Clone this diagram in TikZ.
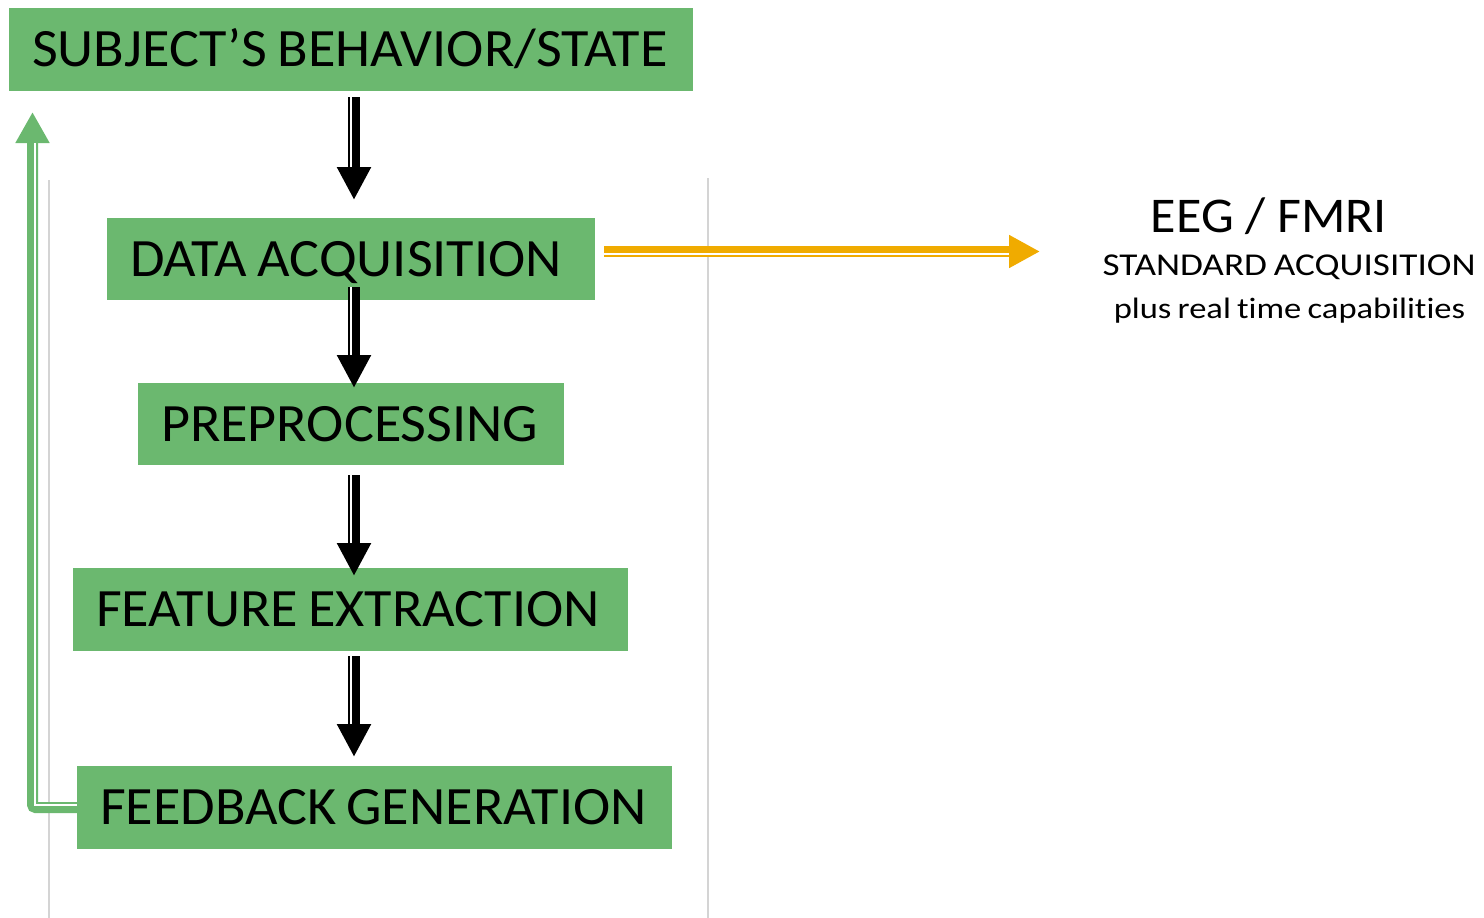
\documentclass[tikz,border=0pt]{standalone}
\usepackage{fontspec}
\setmainfont{Carlito}[FakeStretch=1.04, WordSpace=0.8, Ligatures=NoCommon]
\newfontfamily\rtfont{Carlito}[FakeStretch=1.17, WordSpace=0.8, Ligatures=NoCommon]
\newfontfamily\eegfont{Carlito}[FakeStretch=1.04, Ligatures=NoCommon]
\usetikzlibrary{arrows.meta,calc}
\definecolor{boxgreen}{HTML}{6BB86F}
\definecolor{arrorange}{HTML}{F0AB00}
\definecolor{guide}{HTML}{D4D4D4}
\begin{document}
\begin{tikzpicture}[x=1pt,y=-1pt,
  stage/.style={fill=boxgreen, inner xsep=23pt, inner ysep=0pt, align=flush left,
    text height=34pt, text depth=0pt,
    minimum height=83pt, font=\fontsize{54}{60}\selectfont, anchor=center},
  blkarrow/.style={black, line width=12pt, -{Triangle[length=33pt,width=32pt]}},
  blkgap/.style={white, line width=2pt},
  side/.style={font=\rtfont\fontsize{31.8}{36}\selectfont, anchor=base, inner sep=0pt}]
\useasboundingbox (0,0) rectangle (1484,918);
% guide lines
\coordinate (gl1) at (48.5,180);
\coordinate (gl2) at (48.5,918);
\coordinate (gr1) at (708,178);
\coordinate (gr2) at (708,918);
\draw[guide, line width=2pt] (gl1) -- (gl2);
\draw[guide, line width=2pt] (gr1) -- (gr2);
% stages
\node[stage, text width=638pt] (s)  at (351,49.5)   {\mbox{SUBJECT’S BEHAVIOR/STATE}};
\node[stage, text width=442pt, minimum height=82pt] (da) at (351,259) {\mbox{DATA ACQUISITION}};
\node[stage, text width=380pt, minimum height=82pt] (pp) at (351,424) {PREPROCESSING};
\node[stage, text width=509pt] (fe) at (350.5,609.5) {\mbox{FEATURE EXTRACTION}};
\node[stage, text width=549pt] (fb) at (374.5,807.5) {\mbox{FEEDBACK GENERATION}};
% black arrows
\coordinate (a1s) at (354,97);  \coordinate (a1e) at (354,200);
\coordinate (a2s) at (354,287); \coordinate (a2e) at (354,388);
\coordinate (a3s) at (354,475); \coordinate (a3e) at (354,576);
\coordinate (a4s) at (354,656); \coordinate (a4e) at (354,757);
\foreach \i in {1,2,3,4}{
  \draw[blkarrow] (a\i s) -- (a\i e);
  \draw[blkgap] ($(a\i s)+(-3,0)$) -- ($(a\i e)+(-3,-33)$);
}
% green feedback arrow
\coordinate (gc) at (32.5,807.5);
\coordinate (gt) at (32.5,112);
\draw[boxgreen, line width=11pt, rounded corners=3pt, -{Triangle[length=31pt,width=32pt]}]
  (fb.west) -- (gc) -- (gt);
\draw[white, line width=1.8pt] ($(fb.west)+(0,-2.5)$) -- ($(gc)+(2.5,-2.5)$) -- ($(gt)+(2.5,31)$);
% orange arrow
\coordinate (ot) at (1040,251.5);
\draw[arrorange, line width=11pt, -{Triangle[length=31pt,width=31pt]}]
  ($(da.east)+(9,-7.5)$) -- (ot);
\draw[white, line width=1.8pt] ($(da.east)+(9,-5)$) -- ($(ot)+(-31,2.5)$);
% side texts
\node[side, font=\eegfont\fontsize{50}{56}\selectfont] (eeg) at (1269,232) {EEG / FMRI};
\node[side] (std) at (1289,275) {STANDARD ACQUISITION};
\node[side, font=\rtfont\fontsize{29.5}{34}\selectfont] (plus) at (1289.5,318) {plus real time capabilities};
\end{tikzpicture}
\end{document}
